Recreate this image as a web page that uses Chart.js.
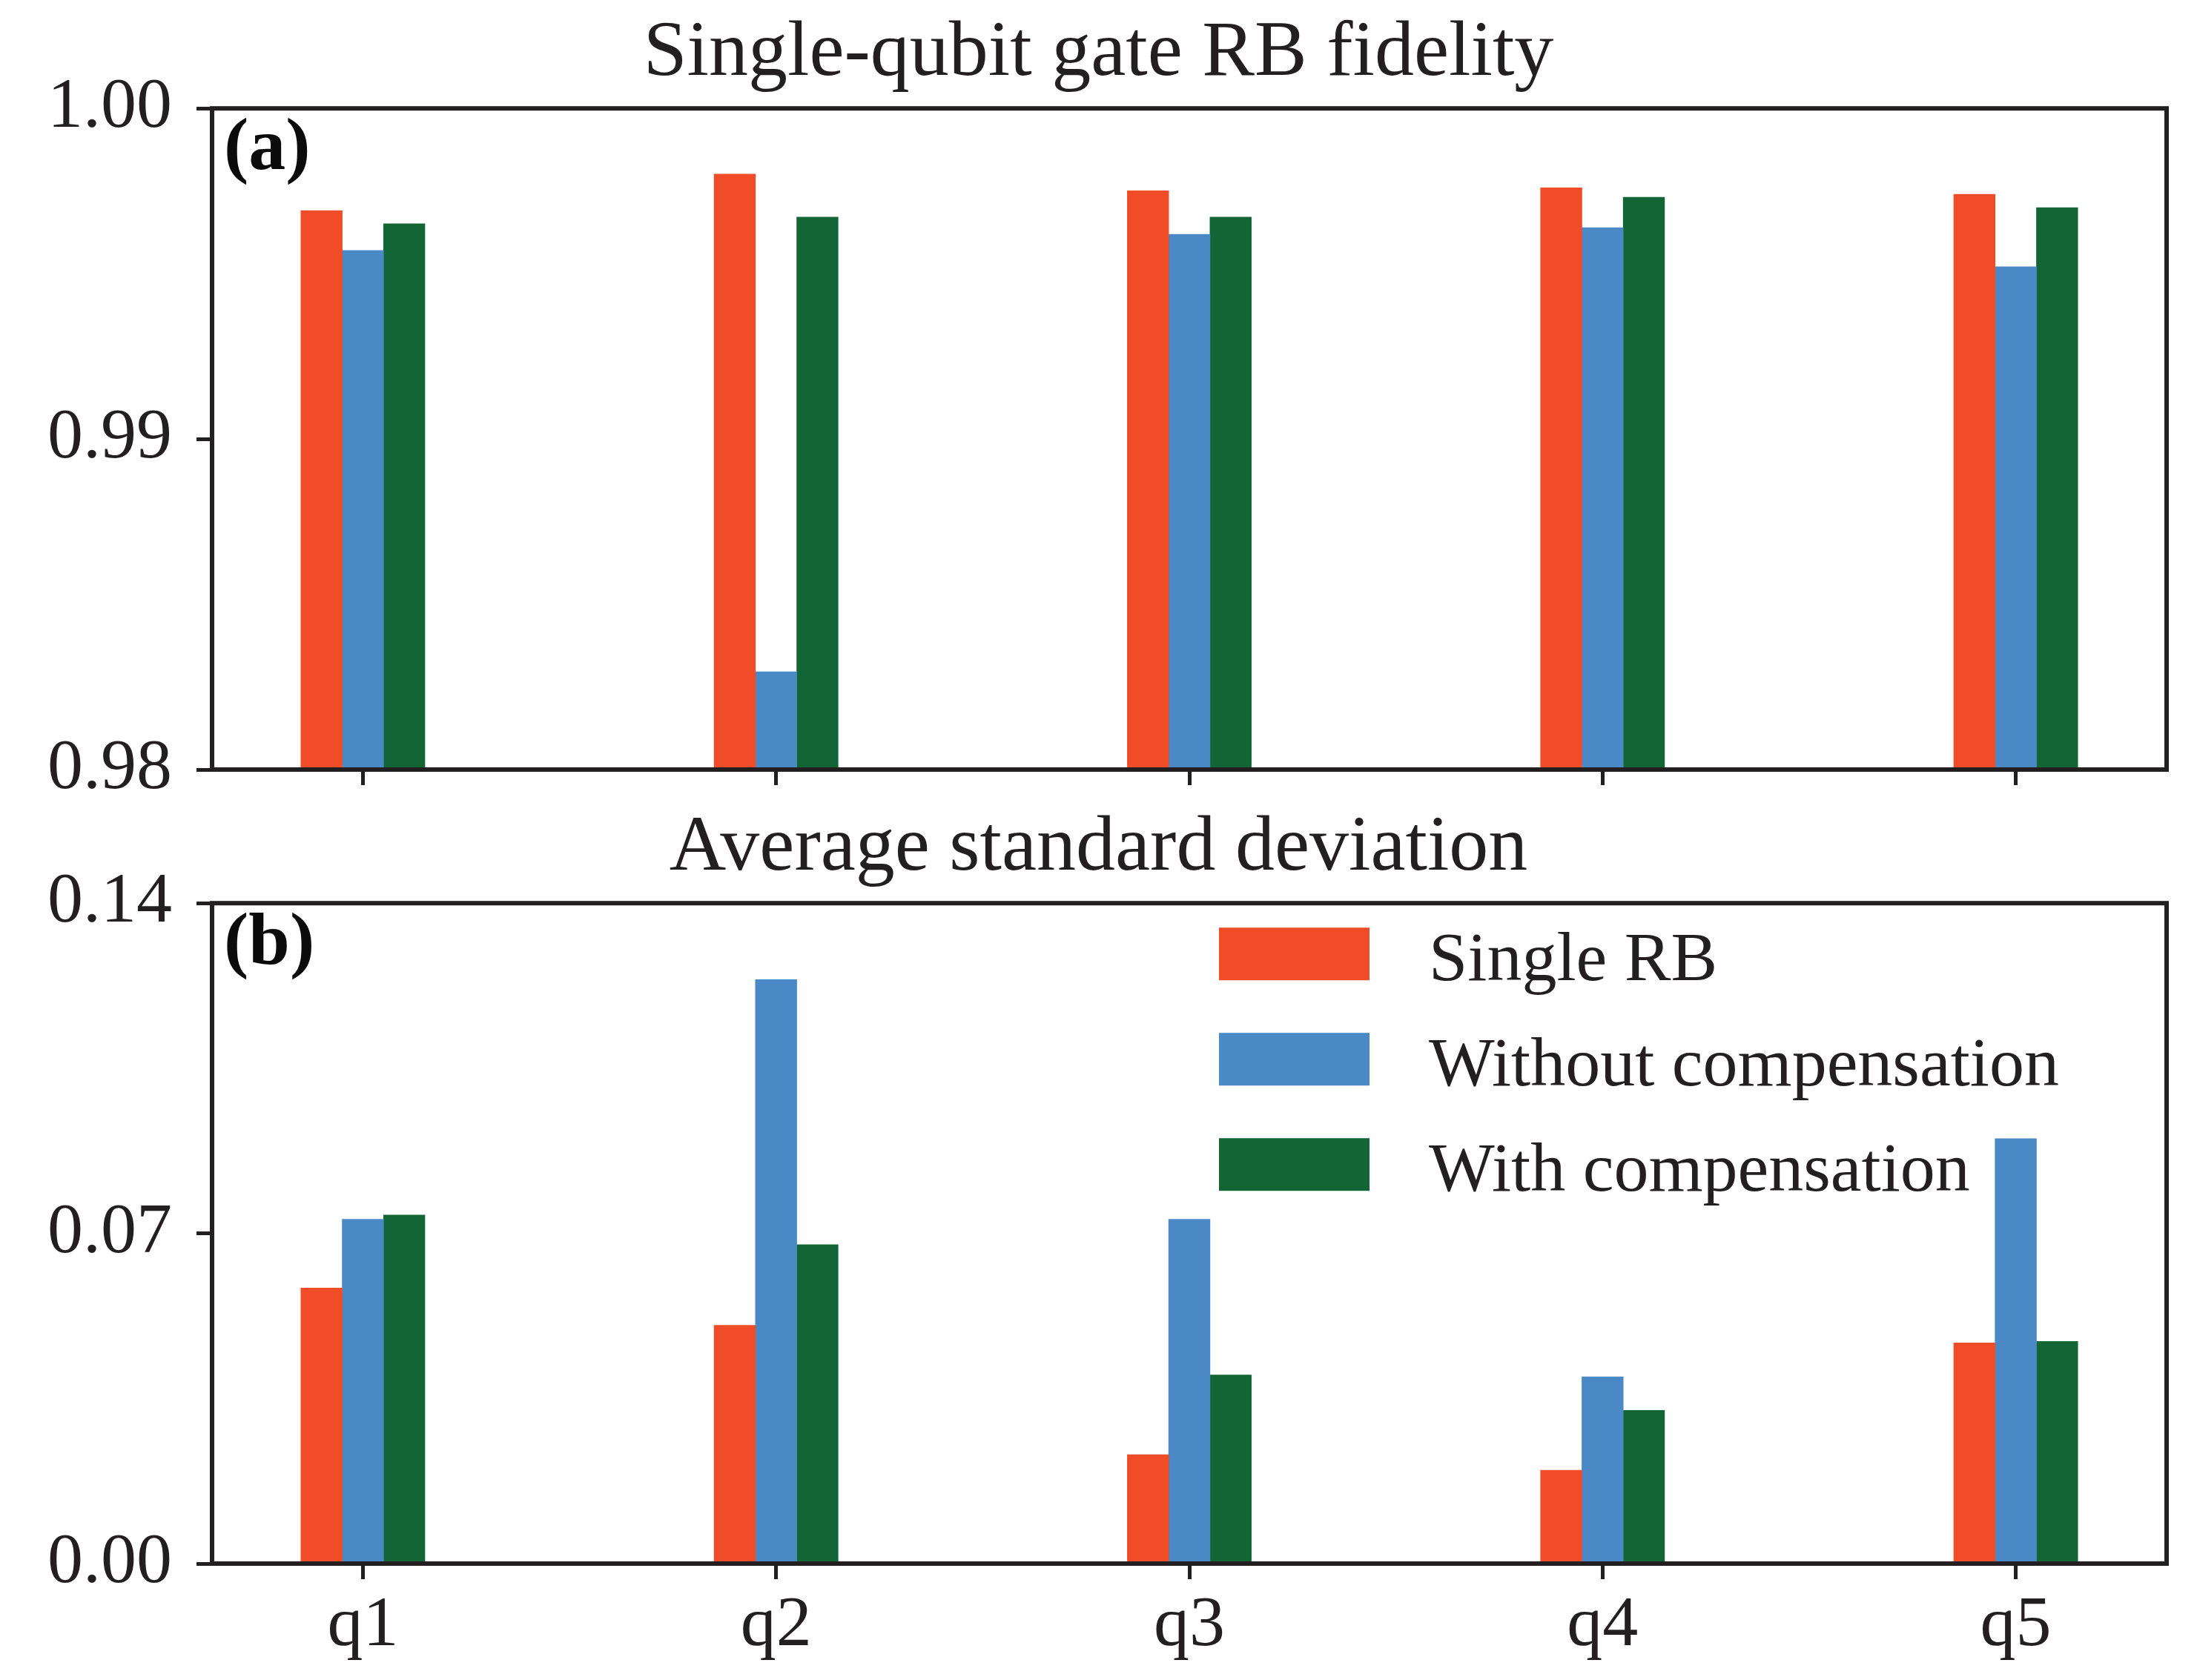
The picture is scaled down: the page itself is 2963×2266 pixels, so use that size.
<!DOCTYPE html>
<html>
<head>
<meta charset="utf-8">
<script src="https://cdn.jsdelivr.net/npm/chart.js@4/dist/chart.umd.min.js"></script>
<style>
  html, body { margin: 0; padding: 0; background: #fff; }
  #wrap { position: relative; width: 2963px; height: 2266px; overflow: hidden; }
  canvas { position: absolute; left: 0; }
  #top { top: 0; }
  #bottom { top: 1072px; }
</style>
</head>
<body>
<div id="wrap">
  <canvas id="top" width="2963" height="1130"></canvas>
  <canvas id="bottom" width="2963" height="1194"></canvas>
</div>
<script>
const qubits = ['q1', 'q2', 'q3', 'q4', 'q5']
const seriesNames = ['Single RB', 'Without compensation', 'With compensation']

// (a) RB fidelity
const fidSingle = [0.99691, 0.99801, 0.99751, 0.99760, 0.99740]
const fidWithout = [0.99570, 0.98296, 0.99619, 0.99639, 0.99521]
const fidWith = [0.99651, 0.99671, 0.99671, 0.99731, 0.99700]
const fidTicks = [0.98, 0.99, 1.00]

// (b) average standard deviation
const stdSingle = [0.0584, 0.0505, 0.0231, 0.0198, 0.0468]
const stdWithout = [0.0730, 0.1238, 0.0730, 0.0396, 0.0901]
const stdWith = [0.0739, 0.0676, 0.0400, 0.0325, 0.0471]
const stdTicks = [0.00, 0.07, 0.14]

const colors = ['#f04c27', '#4a88c6', '#136535']
const ink = '#231f20'
const serif = "'Liberation Serif', 'Times New Roman', serif"
const barOffsets = [-0.1, 0, 0.1]

const toPoints = (values, k) => values.map((y, i) => ({ x: i + barOffsets[k], y }))

const makeDatasets = series => series.map((values, k) => ({
  label: seriesNames[k],
  data: toPoints(values, k),
  backgroundColor: colors[k],
  borderWidth: 0,
  grouped: false,
  categoryPercentage: 1,
  barPercentage: 1,
}))

// box around the plot area, like matplotlib spines
const framePlugin = {
  id: 'frame',
  afterDatasetsDraw(chart) {
    const { ctx, chartArea: a } = chart
    ctx.save()
    ctx.strokeStyle = ink
    ctx.lineWidth = 6
    ctx.strokeRect(a.left, a.top, a.right - a.left, a.bottom - a.top)
    ctx.restore()
  },
}

const panelLabel = text => ({
  id: 'panelLabel',
  afterDraw(chart) {
    const { ctx, chartArea: a } = chart
    ctx.save()
    ctx.fillStyle = '#0b0b0b'
    ctx.font = `bold 100px ${serif}`
    ctx.textBaseline = 'alphabetic'
    ctx.fillText(text, a.left + 16, a.top + 82)
    ctx.restore()
  },
})

// legend drawn inside the plot area, upper right
const insideLegend = {
  id: 'insideLegend',
  afterDraw(chart) {
    const { ctx, chartArea: a } = chart
    ctx.save()
    ctx.font = `94px ${serif}`
    ctx.textBaseline = 'alphabetic'
    chart.data.datasets.forEach((ds, k) => {
      const x = a.left + 1358
      const y = a.top + 33 + k * 142
      ctx.fillStyle = ds.backgroundColor
      ctx.fillRect(x, y, 203, 71)
      ctx.fillStyle = ink
      ctx.fillText(ds.label, x + 283, y + 71)
    })
    ctx.restore()
  },
}

const makeOptions = (title, yTicks, showX, xHeight) => ({
  responsive: false,
  devicePixelRatio: 1,
  animation: false,
  layout: { padding: { left: 41, right: 41, top: 0, bottom: 0 } },
  plugins: {
    legend: { display: false },
    tooltip: { enabled: false },
    title: {
      display: true,
      text: title,
      color: ink,
      font: { family: serif, size: 106, weight: 'normal' },
      padding: { top: 10, bottom: 9 },
    },
  },
  scales: {
    x: {
      type: 'linear',
      min: -0.365,
      max: 4.365,
      offset: false,
      afterBuildTicks: s => { s.ticks = qubits.map((_, i) => ({ value: i })) },
      afterFit: s => { s.height = xHeight },
      border: { display: false },
      grid: { offset: false, drawOnChartArea: false, drawTicks: true, tickLength: 21, tickWidth: 5, tickColor: ink },
      ticks: {
        display: showX,
        padding: 6,
        color: ink,
        font: { family: serif, size: 96 },
        callback: v => qubits[v],
      },
    },
    y: {
      min: yTicks[0],
      max: yTicks[yTicks.length - 1],
      afterBuildTicks: s => { s.ticks = yTicks.map(v => ({ value: v })) },
      afterFit: s => { s.width = 245 },
      border: { display: false },
      grid: { drawOnChartArea: false, drawTicks: true, tickLength: 21, tickWidth: 5, tickColor: ink },
      ticks: {
        padding: 33,
        color: ink,
        font: { family: serif, size: 96 },
        callback: v => v.toFixed(2),
      },
    },
  },
})

new Chart(document.getElementById('top'), {
  type: 'bar',
  data: { datasets: makeDatasets([fidSingle, fidWithout, fidWith]) },
  options: makeOptions('Single-qubit gate RB fidelity', fidTicks, false, 92),
  plugins: [framePlugin, panelLabel('(a)')],
})

new Chart(document.getElementById('bottom'), {
  type: 'bar',
  data: { datasets: makeDatasets([stdSingle, stdWithout, stdWith]) },
  options: makeOptions('Average standard deviation', stdTicks, true, 157),
  plugins: [framePlugin, panelLabel('(b)'), insideLegend],
})
</script>
</body>
</html>
